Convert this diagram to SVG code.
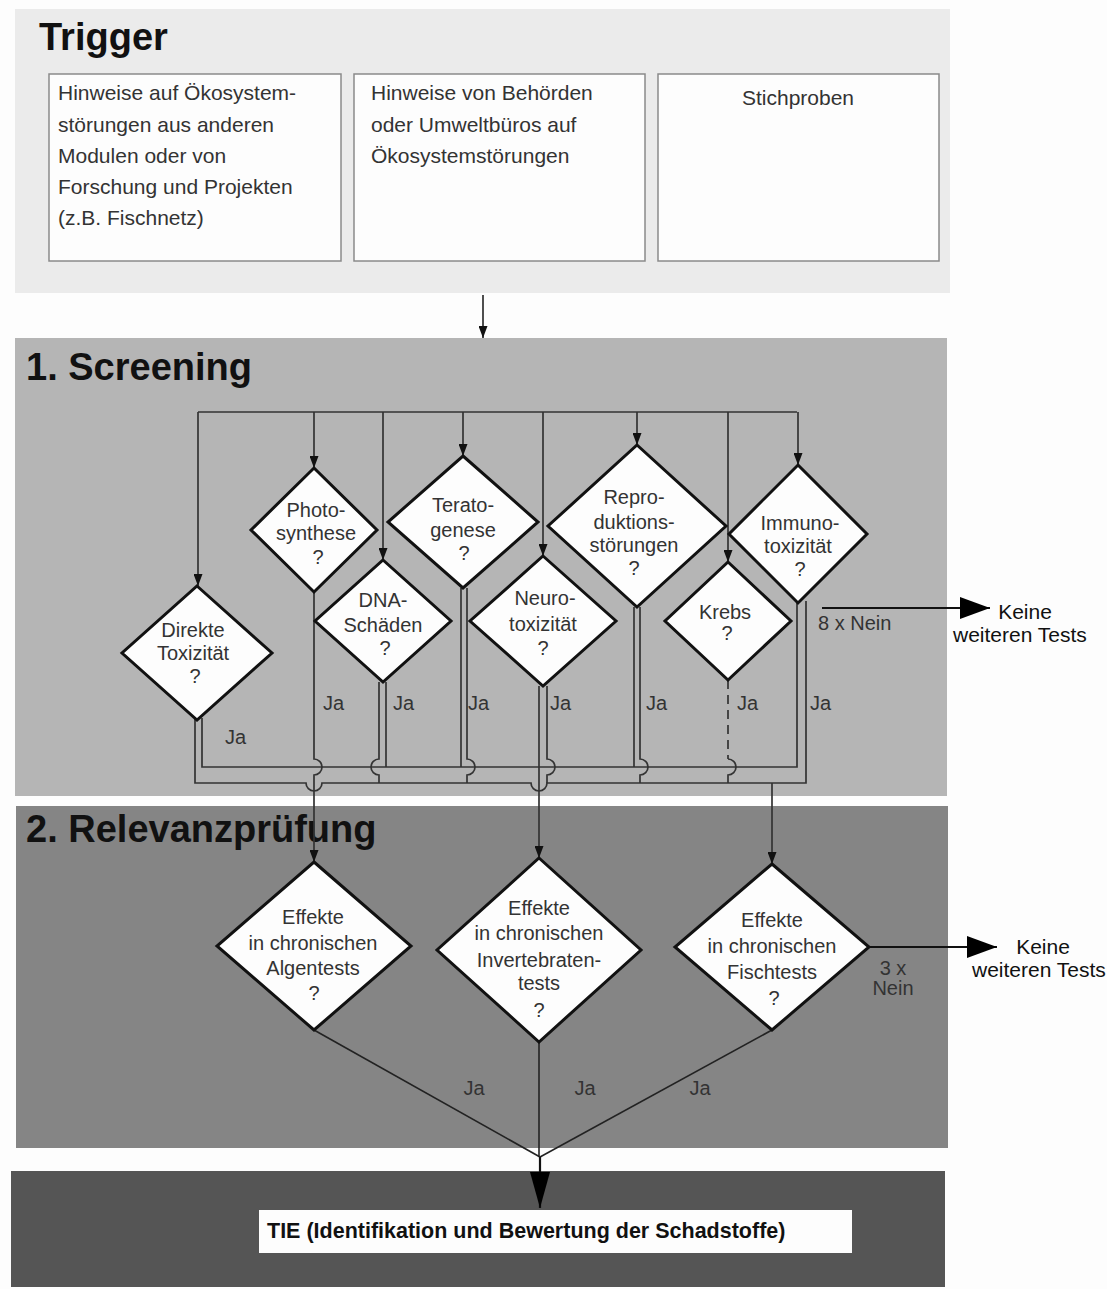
<svg xmlns="http://www.w3.org/2000/svg" width="1107" height="1289" viewBox="0 0 1107 1289">
<defs>
<style>
.t{font-family:"Liberation Sans",Arial,Helvetica,sans-serif;font-size:20px;fill:#333}
.bt{font-family:"Liberation Sans",Arial,Helvetica,sans-serif;font-size:21px;fill:#333}
.k{font-family:"Liberation Sans",Arial,Helvetica,sans-serif;font-size:21px;fill:#111}
.title{font-family:"Liberation Sans",Arial,Helvetica,sans-serif;font-size:38px;font-weight:bold;fill:#111}
.m{text-anchor:middle}
.box{fill:#fdfdfd;stroke:#8a8a8a;stroke-width:1.5}
.dia{fill:#fdfdfd;stroke:#111;stroke-width:3}
.ln{fill:none;stroke:#333;stroke-width:1.7}
.ln2{fill:none;stroke:#222;stroke-width:1.6}
.thick{fill:none;stroke:#111;stroke-width:2.2}
</style>
<marker id="ah" markerUnits="userSpaceOnUse" viewBox="0 0 12 9" refX="12" refY="4.5" markerWidth="12" markerHeight="9" orient="auto"><path d="M0,0 L12,4.5 L0,9 z" fill="#111"/></marker>
<marker id="big" markerUnits="userSpaceOnUse" viewBox="0 0 30 22" refX="30" refY="11" markerWidth="30" markerHeight="22" orient="auto"><path d="M0,0 L30,11 L0,22 z" fill="#000"/></marker>
<marker id="tie" markerUnits="userSpaceOnUse" viewBox="0 0 36 20" refX="36" refY="10" markerWidth="36" markerHeight="20" orient="auto"><path d="M0,0 L36,10 L0,20 z" fill="#000"/></marker>
</defs>
<rect width="1107" height="1289" fill="#fdfdfd"/>

<g id="panels">
<g id="trigger-panel">
<rect x="15" y="9" width="935" height="284" fill="#ebebeb"/>
<text class="title" x="39" y="50">Trigger</text>
</g>
<g id="screening-panel">
<rect x="15" y="338" width="932" height="458" fill="#b5b5b5"/>
<text class="title" x="26" y="380">1. Screening</text>
</g>
<g id="relevanz-panel">
<rect x="16" y="806" width="932" height="342" fill="#858585"/>
<text class="title" x="26" y="842">2. Relevanzprüfung</text>
</g>
<g id="tie-panel">
<rect x="11" y="1171" width="934" height="116" fill="#555555"/>
</g>
</g>

<g id="trigger1">
<rect class="box" x="49" y="74" width="292" height="187"/>
<text class="bt" x="58" y="100">Hinweise auf Ökosystem-</text>
<text class="bt" x="58" y="132">störungen aus anderen</text>
<text class="bt" x="58" y="163">Modulen oder von</text>
<text class="bt" x="58" y="194">Forschung und Projekten</text>
<text class="bt" x="58" y="225">(z.B. Fischnetz)</text>
</g>
<g id="trigger2">
<rect class="box" x="354" y="74" width="291" height="187"/>
<text class="bt" x="371" y="100">Hinweise von Behörden</text>
<text class="bt" x="371" y="132">oder Umweltbüros auf</text>
<text class="bt" x="371" y="163">Ökosystemstörungen</text>
</g>
<g id="trigger3">
<rect class="box" x="658" y="74" width="281" height="187"/>
<text class="bt m" x="798" y="105">Stichproben</text>
</g>

<g id="connectors">
<path class="ln2" d="M483,295 V338" marker-end="url(#ah)"/>
<path class="ln" d="M198,412 H797"/>
<path class="ln" d="M198,412 V586" marker-end="url(#ah)"/>
<path class="ln" d="M314,412 V468" marker-end="url(#ah)"/>
<path class="ln" d="M383,412 V560" marker-end="url(#ah)"/>
<path class="ln" d="M463,412 V456" marker-end="url(#ah)"/>
<path class="ln" d="M543,412 V556" marker-end="url(#ah)"/>
<path class="ln" d="M637,412 V445" marker-end="url(#ah)"/>
<path class="ln" d="M728,412 V562" marker-end="url(#ah)"/>
<path class="ln" d="M798,412 V465" marker-end="url(#ah)"/>

<path class="ln" d="M202,718 V767 H797 V601"/>
<path class="ln" d="M195,718 V783 H306 A8,8 0 0 0 322,783 H531 A8,8 0 0 0 547,783 H806 V601"/>
<path class="ln" d="M314,592 V759 A8,8 0 0 1 314,775 V862" marker-end="url(#ah)"/>
<path class="ln" d="M539,686 V858" marker-end="url(#ah)"/>
<path class="ln" d="M772,783 V864" marker-end="url(#ah)"/>
<path class="ln" d="M386,682 V767"/>
<path class="ln" d="M379,682 V759 A8,8 0 0 0 379,775 V783"/>
<path class="ln" d="M461,588 V767"/>
<path class="ln" d="M467,588 V759 A8,8 0 0 1 467,775 V783"/>
<path class="ln" d="M547,686 V759 A8,8 0 0 1 547,775 V783"/>
<path class="ln" d="M634,607 V767"/>
<path class="ln" d="M640,607 V759 A8,8 0 0 1 640,775 V783"/>
<path class="ln" d="M728,680 V759" stroke-dasharray="9 6"/>
<path class="ln" d="M728,759 A8,8 0 0 1 728,775 V783"/>

<path class="thick" d="M822,608 H990" marker-end="url(#big)"/>
<path class="thick" d="M869,947 H997" marker-end="url(#big)"/>

<path class="ln2" d="M314,1030 L540,1157"/>
<path class="ln2" d="M539,1042 V1157"/>
<path class="ln2" d="M772,1030 L540,1157"/>
<path class="thick" d="M540,1157 V1208" marker-end="url(#tie)"/>
</g>

<g id="direkte">
<polygon class="dia" points="197,586 272,653 197,720 122,653"/>
<text class="t m" x="193" y="637">Direkte</text>
<text class="t m" x="193" y="660">Toxizität</text>
<text class="t m" x="195" y="683">?</text>
</g>
<g id="photosynthese">
<polygon class="dia" points="314,468 377,530 314,592 251,530"/>
<text class="t m" x="316" y="517">Photo-</text>
<text class="t m" x="316" y="540">synthese</text>
<text class="t m" x="318" y="564">?</text>
</g>
<g id="teratogenese">
<polygon class="dia" points="463,456 538,522 463,588 388,522"/>
<text class="t m" x="463" y="512">Terato-</text>
<text class="t m" x="463" y="537">genese</text>
<text class="t m" x="464" y="560">?</text>
</g>
<g id="dna">
<polygon class="dia" points="383,560 451,621 383,682 315,621"/>
<text class="t m" x="383" y="607">DNA-</text>
<text class="t m" x="383" y="632">Schäden</text>
<text class="t m" x="385" y="655">?</text>
</g>
<g id="neuro">
<polygon class="dia" points="543,556 616,621 543,686 470,621"/>
<text class="t m" x="545" y="605">Neuro-</text>
<text class="t m" x="543" y="631">toxizität</text>
<text class="t m" x="543" y="655">?</text>
</g>
<g id="repro">
<polygon class="dia" points="637,445 726,526 637,607 548,526"/>
<text class="t m" x="634" y="504">Repro-</text>
<text class="t m" x="634" y="529">duktions-</text>
<text class="t m" x="634" y="552">störungen</text>
<text class="t m" x="634" y="575">?</text>
</g>
<g id="krebs">
<polygon class="dia" points="728,562 791,621 728,680 665,621"/>
<text class="t m" x="725" y="619">Krebs</text>
<text class="t m" x="727" y="640">?</text>
</g>
<g id="immuno">
<polygon class="dia" points="798,465 867,534 798,603 729,534"/>
<text class="t m" x="800" y="530">Immuno-</text>
<text class="t m" x="798" y="553">toxizität</text>
<text class="t m" x="800" y="576">?</text>
</g>

<g id="screening-labels">
<text class="t" x="225" y="744">Ja</text>
<text class="t" x="323" y="710">Ja</text>
<text class="t" x="393" y="710">Ja</text>
<text class="t" x="468" y="710">Ja</text>
<text class="t" x="550" y="710">Ja</text>
<text class="t" x="646" y="710">Ja</text>
<text class="t" x="737" y="710">Ja</text>
<text class="t" x="810" y="710">Ja</text>
<text class="t" x="818" y="630">8 x Nein</text>
</g>
<g id="keine1">
<text class="k m" x="1025" y="619">Keine</text>
<text class="k" x="953" y="642">weiteren Tests</text>
</g>

<g id="algen">
<polygon class="dia" points="314,862 411,946 314,1030 217,946"/>
<text class="t m" x="313" y="924">Effekte</text>
<text class="t m" x="313" y="950">in chronischen</text>
<text class="t m" x="313" y="975">Algentests</text>
<text class="t m" x="314" y="1000">?</text>
</g>
<g id="invertebraten">
<polygon class="dia" points="539,858 641,950 539,1042 437,950"/>
<text class="t m" x="539" y="915">Effekte</text>
<text class="t m" x="539" y="940">in chronischen</text>
<text class="t m" x="539" y="967">Invertebraten-</text>
<text class="t m" x="539" y="990">tests</text>
<text class="t m" x="539" y="1017">?</text>
</g>
<g id="fisch">
<polygon class="dia" points="772,864 869,947 772,1030 675,947"/>
<text class="t m" x="772" y="927">Effekte</text>
<text class="t m" x="772" y="953">in chronischen</text>
<text class="t m" x="772" y="979">Fischtests</text>
<text class="t m" x="774" y="1005">?</text>
</g>
<g id="relevanz-labels">
<text class="t m" x="893" y="975">3 x</text>
<text class="t m" x="893" y="995">Nein</text>
<text class="t m" x="474" y="1095">Ja</text>
<text class="t m" x="585" y="1095">Ja</text>
<text class="t m" x="700" y="1095">Ja</text>
</g>
<g id="keine2">
<text class="k m" x="1043" y="954">Keine</text>
<text class="k" x="972" y="977">weiteren Tests</text>
</g>

<g id="tie">
<rect x="259" y="1210" width="593" height="43" fill="#fdfdfd"/>
<text x="267" y="1238" font-family="Liberation Sans, Arial, sans-serif" font-size="21.5" font-weight="bold" fill="#111">TIE (Identifikation und Bewertung der Schadstoffe)</text>
</g>
</svg>
